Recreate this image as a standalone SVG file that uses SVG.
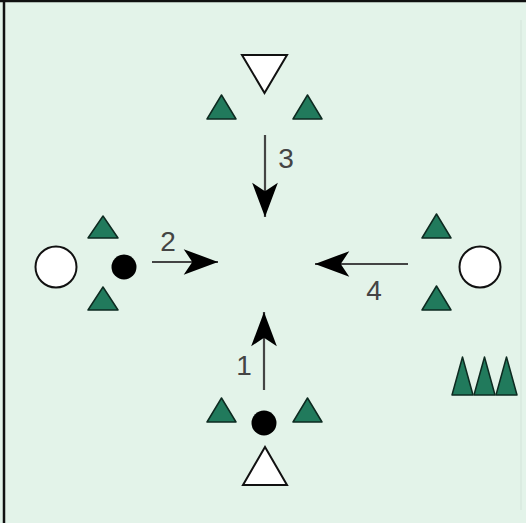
<svg xmlns="http://www.w3.org/2000/svg" width="526" height="523" viewBox="0 0 526 523">
  <style>
    .g { fill: #217a5c; stroke: #0d2a20; stroke-width: 1.5; stroke-linejoin: round; }
    .w { fill: #ffffff; stroke: #111; stroke-width: 2; }
    .b { fill: #000; }
    .ln { stroke: #444; stroke-width: 2.2; fill: none; }
    .lbl { font-family: "Liberation Sans", Arial, sans-serif; font-size: 28px; fill: #444; text-anchor: middle; }
  </style>
  <defs>
    <marker id="ah" markerUnits="userSpaceOnUse" markerWidth="40" markerHeight="30" viewBox="-34 -14 36 28" refX="0" refY="0" orient="auto">
      <path d="M0,0 L-32,-12 L-24,0 L-32,12 Z" fill="#000"/>
    </marker>
  </defs>
  <rect x="0" y="0" width="526" height="523" fill="#e3f3e9"/>
  <line x1="0" y1="1" x2="526" y2="1" stroke="#111" stroke-width="2.5"/>
  <line x1="4" y1="0" x2="4" y2="523" stroke="#111" stroke-width="2.5"/>
  <line x1="521" y1="20" x2="521" y2="510" stroke="#d3e3d9" stroke-width="1"/>

  <g id="top-group">
    <polygon class="w" points="242,55 287,55 264.5,93"/>
    <polygon class="g" points="207,119 236,119 221.5,95"/>
    <polygon class="g" points="293,119 322,119 307.5,95"/>
  </g>
  <g id="left-group">
    <circle class="w" cx="56" cy="267" r="20.5"/>
    <circle class="b" cx="124" cy="267" r="12.5"/>
    <polygon class="g" points="88,238 118,238 103,216"/>
    <polygon class="g" points="88,310 118,310 103,287"/>
  </g>
  <g id="right-group">
    <circle class="w" cx="480" cy="267" r="20.5"/>
    <polygon class="g" points="422,238 451,238 436.5,214"/>
    <polygon class="g" points="422,310 451,310 436.5,286"/>
  </g>
  <g id="bottom-group">
    <polygon class="g" points="207,422 236,422 221.5,398"/>
    <polygon class="g" points="293,422 322,422 307.5,398"/>
    <circle class="b" cx="264" cy="423" r="12.5"/>
    <polygon class="w" points="243,485 287,485 265,447"/>
  </g>
  <g id="cones">
    <polygon class="g" points="452,395 473,395 462.5,357"/>
    <polygon class="g" points="474,395 495,395 484.5,357"/>
    <polygon class="g" points="496,395 517,395 506.5,357"/>
  </g>

  <g id="connectors">
    <line class="ln" x1="264" y1="390" x2="264" y2="312" marker-end="url(#ah)"/>
    <line class="ln" x1="152" y1="262" x2="218" y2="262" marker-end="url(#ah)"/>
    <line class="ln" x1="265" y1="135" x2="265" y2="217" marker-end="url(#ah)"/>
    <line class="ln" x1="408" y1="264" x2="315" y2="264" marker-end="url(#ah)"/>
  </g>
  <g id="labels">
    <text class="lbl" x="244" y="375">1</text>
    <text class="lbl" x="168" y="251">2</text>
    <text class="lbl" x="286" y="168">3</text>
    <text class="lbl" x="374" y="300">4</text>
  </g>
</svg>
